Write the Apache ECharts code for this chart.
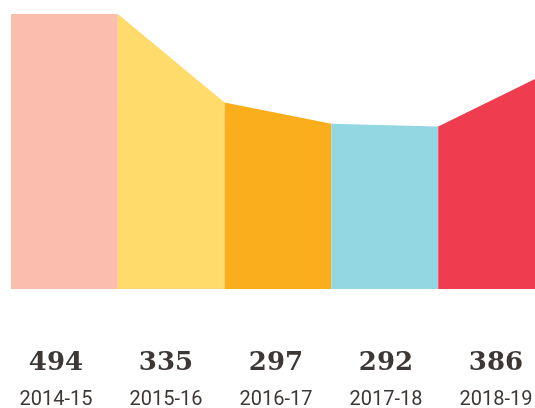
<!DOCTYPE html>
<html>
<head>
<meta charset="utf-8">
<script src="https://cdn.jsdelivr.net/npm/echarts@6/dist/echarts.min.js"></script>
<style>html,body{margin:0;padding:0;background:#fff;}#c{width:535px;height:408px;}</style>
</head>
<body>
<div id="c"></div>
<script>
var categories = ['2014-15', '2015-16', '2016-17', '2017-18', '2018-19'];
var values = [494, 335, 297, 292, 386];
var colors = ['#FBBDAE', '#FEDB6A', '#FAAE1B', '#93D7E3', '#EF3C4E'];

var chart = echarts.init(document.getElementById('c'));
var series = [];
for (var i = 0; i < values.length; i++) {
  var startVal = i === 0 ? values[0] : values[i - 1];
  series.push({
    type: 'line',
    xAxisIndex: 0,
    yAxisIndex: 0,
    data: [[i, startVal], [i + 1, values[i]]],
    symbol: 'none',
    lineStyle: { width: 0, color: colors[i] },
    areaStyle: { color: colors[i], opacity: 1 },
    silent: true,
    animation: false
  });
}
chart.setOption({
  animation: false,
  grid: [
    { left: 11, top: 14, width: 534, height: 275, outerBoundsMode: 'none', containLabel: false },
    { left: 1, top: 14, width: 550, height: 275, outerBoundsMode: 'none', containLabel: false }
  ],
  xAxis: [
    { type: 'value', gridIndex: 0, min: 0, max: 5, show: false },
    {
      type: 'category', gridIndex: 1, data: categories, boundaryGap: true,
      axisLine: { show: false }, axisTick: { show: false },
      axisLabel: {
        interval: 0, margin: 56, verticalAlign: 'top', hideOverlap: false,
        formatter: function (v, idx) { return '{v|' + values[idx] + '}\n{c|' + v + '}'; },
        rich: {
          v: { fontFamily: 'DejaVu Serif', fontWeight: 'bold', fontSize: 26, color: '#3d3835', lineHeight: 37 },
          c: { fontFamily: 'Roboto', fontSize: 20, color: '#3d3835', lineHeight: 36 }
        }
      }
    }
  ],
  yAxis: [
    { type: 'value', gridIndex: 0, min: 0, max: 494, show: false },
    { type: 'value', gridIndex: 1, show: false }
  ],
  series: series
});
</script>
</body>
</html>
